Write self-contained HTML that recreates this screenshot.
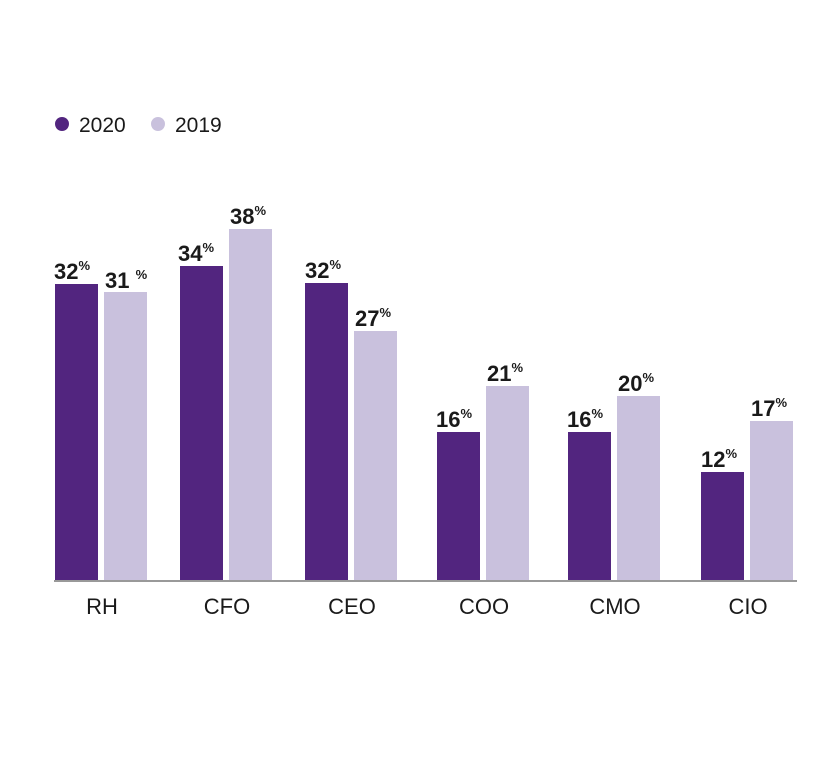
<!DOCTYPE html>
<html><head><meta charset="utf-8"><style>
body{margin:0;background:#fff}
svg{display:block}
text{font-family:"Liberation Sans",sans-serif;fill:#1a1a1a}
.v{font-size:22px;font-weight:bold}
.p{font-size:13px;font-weight:bold}
.c{font-size:22px;text-anchor:middle}
</style></head><body>
<svg width="840" height="768" viewBox="0 0 840 768">
<circle cx="62" cy="124" r="7" fill="#52257f"/>
<text x="79" y="132" font-size="21" fill="#222">2020</text>
<circle cx="158" cy="124" r="7" fill="#c9c1dd"/>
<text x="175" y="132" font-size="21" fill="#222">2019</text>
<g fill="#52257f">
<rect x="55" y="284" width="43" height="297"/>
<rect x="180" y="266" width="43" height="315"/>
<rect x="305" y="283" width="43" height="298"/>
<rect x="437" y="432" width="43" height="149"/>
<rect x="568" y="432" width="43" height="149"/>
<rect x="701" y="472" width="43" height="109"/>
</g>
<g fill="#c9c1dd">
<rect x="104" y="292" width="43" height="289"/>
<rect x="229" y="229" width="43" height="352"/>
<rect x="354" y="331" width="43" height="250"/>
<rect x="486" y="386" width="43" height="195"/>
<rect x="617" y="396" width="43" height="185"/>
<rect x="750" y="421" width="43" height="160"/>
</g>
<rect x="54" y="580" width="743" height="2" fill="#999"/>
<g class="v">
<text x="54" y="279">32<tspan class="p" dy="-9">%</tspan></text>
<text x="105" y="288">31 <tspan class="p" dy="-9">%</tspan></text>
<text x="178" y="261">34<tspan class="p" dy="-9">%</tspan></text>
<text x="230" y="224">38<tspan class="p" dy="-9">%</tspan></text>
<text x="305" y="278">32<tspan class="p" dy="-9">%</tspan></text>
<text x="355" y="326">27<tspan class="p" dy="-9">%</tspan></text>
<text x="436" y="427">16<tspan class="p" dy="-9">%</tspan></text>
<text x="487" y="381">21<tspan class="p" dy="-9">%</tspan></text>
<text x="567" y="427">16<tspan class="p" dy="-9">%</tspan></text>
<text x="618" y="391">20<tspan class="p" dy="-9">%</tspan></text>
<text x="701" y="467">12<tspan class="p" dy="-9">%</tspan></text>
<text x="751" y="416">17<tspan class="p" dy="-9">%</tspan></text>
</g>
<text class="c" x="102" y="614">RH</text>
<text class="c" x="227" y="614">CFO</text>
<text class="c" x="352" y="614">CEO</text>
<text class="c" x="484" y="614">COO</text>
<text class="c" x="615" y="614">CMO</text>
<text class="c" x="748" y="614">CIO</text>
</svg>
</body></html>
